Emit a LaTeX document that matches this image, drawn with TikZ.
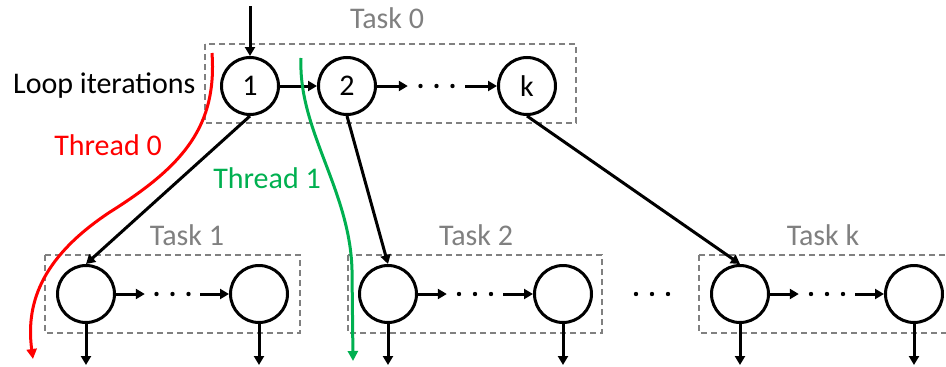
\documentclass[tikz,border=0pt]{standalone}
\usepackage{fontspec}
\setmainfont{Carlito}
\usetikzlibrary{arrows.meta}
\definecolor{taskgray}{RGB}{128,128,128}
\definecolor{threadred}{RGB}{255,0,0}
\definecolor{threadgreen}{RGB}{0,176,80}
% three dots centred on a named node
\newcommand\tripledots[1]{%
  \foreach \dx in {-16,0,16} \fill ([xshift=\dx pt]#1.center) circle (2.2pt);}
\begin{document}
\begin{tikzpicture}[x=1pt,y=-1pt,
  every node/.style={font=\fontsize{30}{36}\selectfont},
  iter/.style={circle,draw,line width=3pt,minimum size=57pt,inner sep=0pt},
  taskbox/.style={draw=taskgray,line width=1.5pt,dash pattern=on 6pt off 4pt},
  tasklabel/.style={text=taskgray},
  gapnode/.style={inner sep=0pt,minimum height=4pt,minimum width=#1},
  arr/.style={line width=3pt,-{Triangle[length=9pt,width=10pt]}},
  thread/.style={line width=3pt,-{Triangle[length=10pt,width=10pt]}}]
\useasboundingbox (0,0) rectangle (946,367);

% dashed task frames
\draw[taskbox] (205,44) rectangle (576,123);
\draw[taskbox] (45,255) rectangle (300,333);
\draw[taskbox] (348,255) rectangle (602,333);
\draw[taskbox] (699,255) rectangle (954,333);

% task titles
\node[tasklabel] (t0lbl) at (387,18) {Task 0};
\node[tasklabel] (t1lbl) at (187,235) {Task 1};
\node[tasklabel] (t2lbl) at (476,235) {Task 2};
\node[tasklabel] (tklbl) at (823,235) {Task k};

% outer loop iterations
\node[anchor=east] (looplbl) at (199,86) {Loop iterations};
\node[iter] (n1) at (250,86) {1};
\node[iter] (n2) at (347,86) {2};
\node[gapnode=57pt] (d0) at (436.5,86) {};
\node[iter] (nk) at (527,86) {k};
\tripledots{d0}

% inner tasks
\node[iter] (a1) at (86,294) {};
\node[gapnode=55pt] (da) at (172.5,294) {};
\node[iter] (a2) at (259,294) {};
\tripledots{da}

\node[iter] (b1) at (388,294) {};
\node[gapnode=56pt] (db) at (475,294) {};
\node[iter] (b2) at (563,294) {};
\tripledots{db}

\node[gapnode=40pt] (dmid) at (652,294) {};
\tripledots{dmid}

\node[iter] (c1) at (740,294) {};
\node[gapnode=56pt] (dc) at (827,294) {};
\node[iter] (c2) at (914,294) {};
\tripledots{dc}

% free ends
\coordinate (entry) at (250,6);
\foreach \n in {a1,a2,b1,b2,c1,c2} \coordinate (\n out) at (\n.south |- 0,365);

% connectors
\draw[arr] (entry) -- (n1.north);
\draw[arr] (n1) -- (n2);
\draw[arr] (n2) -- (d0);
\draw[arr] (d0) -- (nk);
\draw[arr] (n1.south) -- (a1.north);
\draw[arr] (n2.south) -- (b1.north);
\draw[arr] (nk.south) -- (c1.north);
\draw[arr] (a1) -- (da);
\draw[arr] (da) -- (a2);
\draw[arr] (b1) -- (db);
\draw[arr] (db) -- (b2);
\draw[arr] (c1) -- (dc);
\draw[arr] (dc) -- (c2);
\foreach \n in {a1,a2,b1,b2,c1,c2} \draw[arr] (\n.south) -- (\n out);

% threads
\coordinate (r0s) at (212,53);
\coordinate (r0e) at (33,359);
\draw[thread,threadred] (r0s) .. controls (217,125) and (185,165) .. (110,212)
  .. controls (45,255) and (25,300) .. (r0e);
\node[text=threadred] (th0) at (108,145) {Thread 0};

\coordinate (g1s) at (301,58);
\coordinate (g1e) at (353,361);
\draw[thread,threadgreen] (g1s) .. controls (298,130) and (350,190) .. (352,270) -- (g1e);
\node[text=threadgreen] (th1) at (267,178) {Thread 1};
\end{tikzpicture}
\end{document}
